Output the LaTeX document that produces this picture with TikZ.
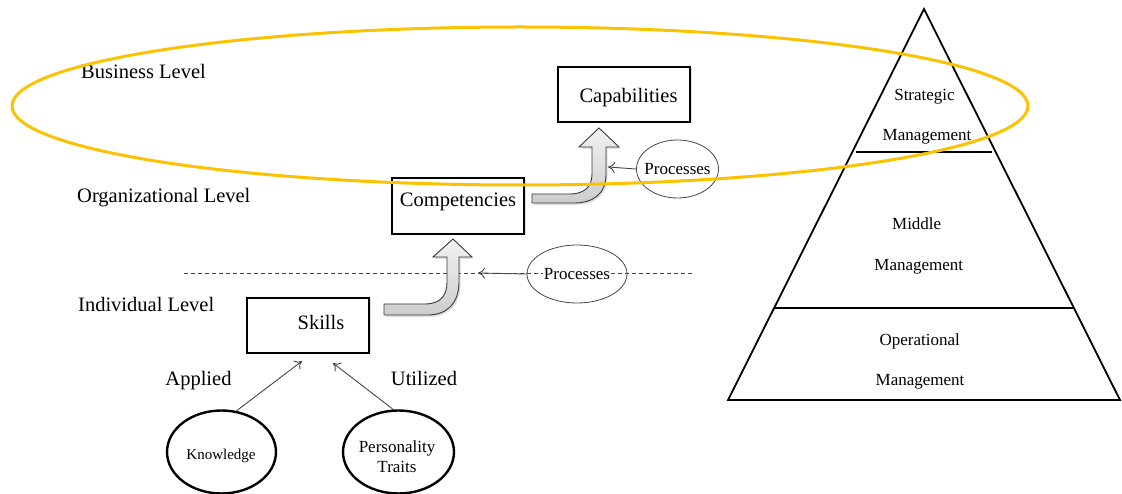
\documentclass[tikz,border=0pt]{standalone}
\usepackage{fontspec}
\setmainfont{Liberation Serif}
\usetikzlibrary{arrows.meta,calc,shapes.geometric,shadows}
\newcommand\szBig{\fontsize{20.5}{24}\selectfont}
\newcommand\szMid{\fontsize{17}{20}\selectfont}
\newcommand\szSm{\fontsize{15}{18}\selectfont}
\definecolor{gold}{RGB}{250,194,0}
\definecolor{arrowgray}{RGB}{70,70,70}
\tikzset{
  txt/.style={inner sep=0pt, text depth=0pt, align=center},
  bigtxt/.style={txt, font=\szBig, text height=13.5pt},
  midtxt/.style={txt, font=\szMid, text height=11.2pt},
  smtxt/.style={txt, font=\szSm, text height=9.9pt},
  levellbl/.style={bigtxt, anchor=west},
  boxnode/.style={draw=black, fill=white, line width=2.2pt, inner sep=0pt,
    drop shadow={shadow xshift=1.5pt, shadow yshift=-1.5pt, opacity=0.25}},
  thickell/.style={ellipse, draw=black, line width=2.4pt, inner sep=0pt},
  procell/.style={ellipse, draw=arrowgray, line width=0.8pt, inner sep=0pt},
  thinarrow/.style={draw=arrowgray, line width=0.9pt, -{To[length=7pt,width=11pt]}},
  blockarrow/.style={draw=gray!45!black, line width=0.9pt, top color=gray!10, bottom color=gray!40,
    drop shadow={shadow xshift=1.5pt, shadow yshift=-2pt, opacity=0.25}},
  pyr/.style={draw=black, line width=1.8pt},
}
\begin{document}
\begin{tikzpicture}[x=1pt, y=-1pt]
\useasboundingbox (0,0) rectangle (1122,494);

% level labels
\node[levellbl] (lvbus) at (81,72) {Business Level};
\node[levellbl] (lvorg) at (77,195.5) {Organizational Level};
\node[levellbl] (lvind) at (78,304.5) {Individual Level};

% dashed separator
\coordinate (dl) at (184,273);
\coordinate (dr) at (693,273);
\draw[dashed, dash pattern=on 4pt off 3pt, draw=arrowgray, line width=0.8pt] (dl) -- (dr);

% boxes
\node[boxnode, minimum width=132pt, minimum height=55pt] (cap) at (624,94.5) {};
\node[bigtxt] (captext) at (628.5,95.5) {Capabilities};
\node[boxnode, minimum width=132pt, minimum height=56pt] (comp) at (458,206) {};
\node[bigtxt] (comptext) at (458,200) {Competencies};
\node[boxnode, minimum width=122pt, minimum height=55pt] (skills) at (308,325.5) {};
\node[bigtxt] (skilltext) at (321,322.5) {Skills};

% block arrows
\draw[blockarrow] (384,304) -- (425,304) .. controls (440,304) and (447,296) .. (447,282)
  -- (447,257) -- (433,257) -- (453,239) -- (472,257) -- (459,257) -- (459,282)
  .. controls (459,305) and (445,315) .. (428,315) -- (384,315) -- cycle;
\draw[blockarrow] (532,194) -- (570,194) .. controls (585,194) and (592,186) .. (592,174)
  -- (592,147) -- (579,147) -- (599,128) -- (619,147) -- (606,147) -- (606,174)
  .. controls (606,195) and (592,203) .. (574,203) -- (532,203) -- cycle;

% processes ellipses
\node[procell, minimum width=100pt, minimum height=58pt,
  label={[midtxt, fill=white, inner sep=1pt]center:Processes}] (proc2) at (577,274) {};
\node[procell, minimum width=82pt, minimum height=58pt,
  label={[midtxt]center:Processes}] (proc1) at (677.5,169) {};
\coordinate (pa2) at (478,273);
\coordinate (pa1) at (608,167);
\draw[thinarrow] (proc2.west) -- (pa2);
\draw[thinarrow] (proc1.west) -- (pa1);

% knowledge / personality
\node[thickell, minimum width=109pt, minimum height=83pt] (know) at (221.5,452) {};
\node[smtxt] (knowtext) at (221,455) {Knowledge};
\node[thickell, minimum width=111pt, minimum height=83pt] (pers) at (398.5,452) {};
\node[midtxt] (perstext1) at (397,446.5) {Personality};
\node[midtxt] (perstext2) at (397,466.5) {Traits};
\draw[thinarrow] (know.70) -- ($(skills.south)+(-6,7)$);
\draw[thinarrow] (pers.97) -- ($(skills.south)+(25,9)$);
\node[bigtxt] (applied) at (198.5,379) {Applied};
\node[bigtxt] (utilized) at (424,379) {Utilized};

% pyramid
\draw[pyr, line join=miter] (924,9) -- (1120,400) -- (728,400) -- cycle;
\draw[pyr] (856,152) -- (992,152);
\draw[pyr] (774,308) -- (1073,308);
\node[midtxt] (p1) at (924.5,95) {Strategic};
\node[midtxt] (p2) at (927,135) {Management};
\node[midtxt] (p3) at (916.7,224) {Middle};
\node[midtxt] (p4) at (918.8,265) {Management};
\node[midtxt] (p5) at (919.7,340) {Operational};
\node[midtxt] (p6) at (920,380) {Management};

% business ellipse
\draw[draw=gold, line width=3pt] (520,106) ellipse [x radius=508pt, y radius=79pt];
\end{tikzpicture}
\end{document}
